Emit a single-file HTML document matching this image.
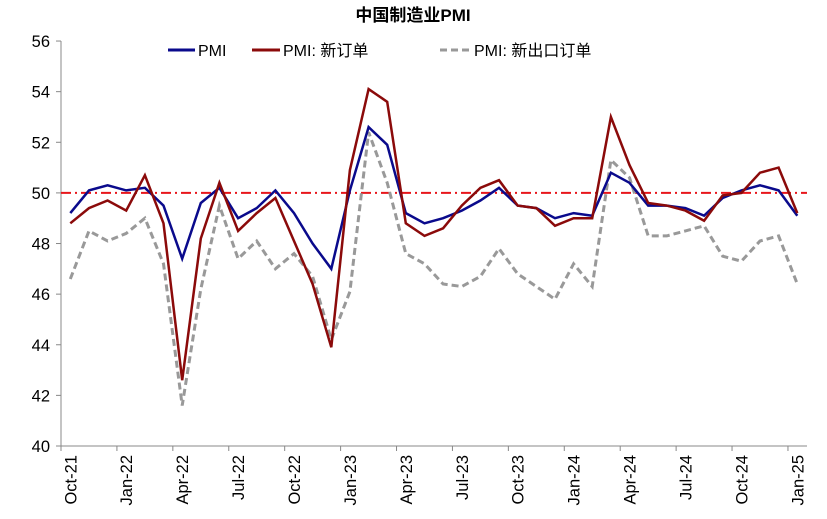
<!DOCTYPE html>
<html><head><meta charset="utf-8"><style>
html,body{margin:0;padding:0;background:#fff;}
svg{display:block;font-family:"Liberation Sans","Noto Sans CJK SC",sans-serif;}
</style></head><body>
<svg id="c" width="827" height="519" xmlns="http://www.w3.org/2000/svg">
<text x="413" y="21" text-anchor="middle" font-size="17" font-weight="bold" fill="#000">中国制造业PMI</text>
<g font-size="16" fill="#000">
<line x1="168" y1="50" x2="195" y2="50" stroke="#0a0a8c" stroke-width="3"/>
<text x="198" y="56">PMI</text>
<line x1="252" y1="50" x2="280" y2="50" stroke="#8b0a0a" stroke-width="3"/>
<text x="283" y="56">PMI: 新订单</text>
<line x1="440" y1="50" x2="470" y2="50" stroke="#999" stroke-width="3" stroke-dasharray="7,4"/>
<text x="474" y="56">PMI: 新出口订单</text>
</g>
<g id="ax"></g>
</svg>
<script>
var s=document.getElementById('ax'),h='';
var X0=61,W=18.64,Y=function(v){return 446-(v-40)*25.31;};
h+='<line x1="61" y1="41" x2="61" y2="446" stroke="#888"/><line x1="61" y1="446" x2="807" y2="446" stroke="#888"/>';
for(var v=40;v<=56;v+=2){var y=Y(v);h+='<line x1="56" y1="'+y+'" x2="61" y2="'+y+'" stroke="#888"/><text x="50" y="'+(y+6)+'" font-size="16.5" text-anchor="end">'+v+'</text>';}
var L=['Oct-21','Jan-22','Apr-22','Jul-22','Oct-22','Jan-23','Apr-23','Jul-23','Oct-23','Jan-24','Apr-24','Jul-24','Oct-24','Jan-25'];
for(var i=0;i<14;i++){var x=X0+i*3*W;h+='<line x1="'+x+'" y1="446" x2="'+x+'" y2="451" stroke="#888"/>';var lx=x+W/2+6;h+='<text transform="translate('+lx+',455) rotate(-90)" font-size="16.5" text-anchor="end">'+L[i]+'</text>';}
h+='<line x1="61" y1="'+Y(50)+'" x2="807" y2="'+Y(50)+'" stroke="#e8161b" stroke-width="2" stroke-dasharray="10,4,2,4"/>';
var a=[49.2,50.1,50.3,50.1,50.2,49.5,47.4,49.6,50.2,49.0,49.4,50.1,49.2,48.0,47.0,50.1,52.6,51.9,49.2,48.8,49.0,49.3,49.7,50.2,49.5,49.4,49.0,49.2,49.1,50.8,50.4,49.5,49.5,49.4,49.1,49.8,50.1,50.3,50.1,49.1];
var b=[48.8,49.4,49.7,49.3,50.7,48.8,42.6,48.2,50.4,48.5,49.2,49.8,48.1,46.4,43.9,50.9,54.1,53.6,48.8,48.3,48.6,49.5,50.2,50.5,49.5,49.4,48.7,49.0,49.0,53.0,51.1,49.6,49.5,49.3,48.9,49.9,50.0,50.8,51.0,49.2];
var c=[46.6,48.5,48.1,48.4,49.0,47.2,41.6,46.2,49.5,47.4,48.1,47.0,47.6,46.7,44.2,46.1,52.4,50.4,47.6,47.2,46.4,46.3,46.7,47.8,46.8,46.3,45.8,47.2,46.3,51.3,50.6,48.3,48.3,48.5,48.7,47.5,47.3,48.1,48.3,46.4];
function P(d){return d.map(function(v,i){return (X0+W/2+i*W).toFixed(1)+','+Y(v).toFixed(1);}).join(' ');}
h+='<polyline points="'+P(c)+'" fill="none" stroke="#999" stroke-width="3" stroke-dasharray="7,4"/>';
h+='<polyline points="'+P(a)+'" fill="none" stroke="#0a0a8c" stroke-width="2.5"/>';
h+='<polyline points="'+P(b)+'" fill="none" stroke="#8b0a0a" stroke-width="2.5"/>';
s.innerHTML=h;
</script>
</body></html>
